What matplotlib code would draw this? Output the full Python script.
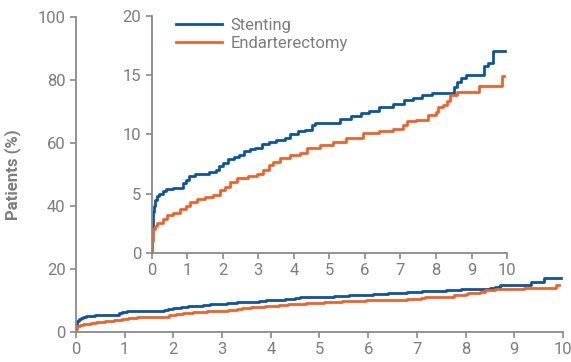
import matplotlib
matplotlib.use('Agg')
import matplotlib.pyplot as plt

# cumulative event curves, % of patients vs years
stent_t = [0, 0.01, 0.03, 0.06, 0.1, 0.15, 0.2, 0.3, 0.4, 0.6, 0.88, 0.95, 1.05, 1.2, 1.6, 1.8,
           1.9, 2.0, 2.15, 2.3, 2.45, 2.6, 2.75, 2.9, 3.1, 3.3, 3.5, 3.75, 3.9, 4.1, 4.3, 4.5,
           4.6, 5.3, 5.6, 5.9, 6.1, 6.4, 6.8, 7.1, 7.35, 7.6, 7.9, 8.5, 8.6, 8.7, 8.85, 9.35,
           9.45, 9.6, 9.95]
stent_y = [0, 2.0, 3.5, 4.0, 4.5, 4.8, 5.0, 5.2, 5.4, 5.5, 5.9, 6.2, 6.5, 6.7, 6.8, 7.0,
           7.3, 7.6, 7.9, 8.1, 8.3, 8.6, 8.8, 8.9, 9.2, 9.4, 9.5, 9.7, 10.0, 10.3, 10.4, 10.8,
           11.0, 11.3, 11.6, 11.8, 12.0, 12.3, 12.6, 12.9, 13.1, 13.3, 13.5, 14.0, 14.4, 14.8,
           15.0, 15.8, 16.0, 17.0, 17.0]

endart_t = [0, 0.01, 0.03, 0.08, 0.15, 0.3, 0.42, 0.6, 0.79, 0.95, 1.07, 1.26, 1.5, 1.73,
            1.92, 2.05, 2.2, 2.4, 2.7, 2.96, 3.13, 3.3, 3.41, 3.6, 3.89, 4.17, 4.36, 4.73,
            5.1, 5.47, 5.95, 6.4, 6.8, 7.08, 7.17, 7.45, 7.77, 8.0, 8.05, 8.2, 8.3, 8.4, 8.6,
            9.2, 9.85, 9.92]
endart_y = [0, 1.0, 2.0, 2.3, 2.5, 2.9, 3.2, 3.4, 3.7, 4.0, 4.3, 4.6, 4.7, 4.9,
            5.3, 5.6, 6.0, 6.3, 6.5, 6.7, 7.0, 7.4, 7.7, 8.0, 8.3, 8.4, 8.9, 9.1,
            9.4, 9.7, 10.1, 10.3, 10.5, 10.8, 11.1, 11.2, 11.65, 11.9, 12.3, 12.5, 12.8, 13.3, 13.6,
            14.1, 14.9, 14.9]

main_yticks = [0, 20, 40, 60, 80, 100]
inset_yticks = [0, 5, 10, 15, 20]
xticks = list(range(11))

blue = '#0a55a3'
orange = '#f26228'
grey = '#8a8a8a'
txt = '#7d7d7d'

plt.rcParams['font.family'] = ['Roboto', 'DejaVu Sans']


def style(ax):
    for s in ['top', 'right']:
        ax.spines[s].set_visible(False)
    for s in ['left', 'bottom']:
        ax.spines[s].set_color(grey)
        ax.spines[s].set_linewidth(1.3)
    ax.tick_params(colors=grey, labelcolor=txt, labelsize=12, length=4, width=1.2)


fig = plt.figure(figsize=(5.71, 3.62), dpi=100)

ax = fig.add_axes([0.133, 0.083, 0.853, 0.87])
ax.step(stent_t, stent_y, where='post', color=blue, lw=2.0)
ax.step(endart_t, endart_y, where='post', color=orange, lw=2.0)
ax.set_xlim(0, 10)
ax.set_ylim(0, 100)
ax.set_xticks(xticks)
ax.set_yticks(main_yticks)
style(ax)
ax.set_ylabel('Patients (%)', color=txt, fontsize=12, fontweight='bold', labelpad=12)

ins = fig.add_axes([0.266, 0.301, 0.622, 0.655])
ins.step(stent_t, stent_y, where='post', color=blue, lw=2.0, label='Stenting')
ins.step(endart_t, endart_y, where='post', color=orange, lw=2.0, label='Endarterectomy')
ins.set_xlim(0, 10)
ins.set_ylim(0, 20)
ins.set_xticks(xticks)
ins.set_yticks(inset_yticks)
ins.patch.set_alpha(0)
style(ins)
leg = ins.legend(loc='upper left', bbox_to_anchor=(0.025, 1.055), frameon=False,
                 fontsize=12, handlelength=2.8, labelspacing=0.2, handletextpad=0.5)
for t in leg.get_texts():
    t.set_color(txt)

fig.savefig('out.png', dpi=100)
